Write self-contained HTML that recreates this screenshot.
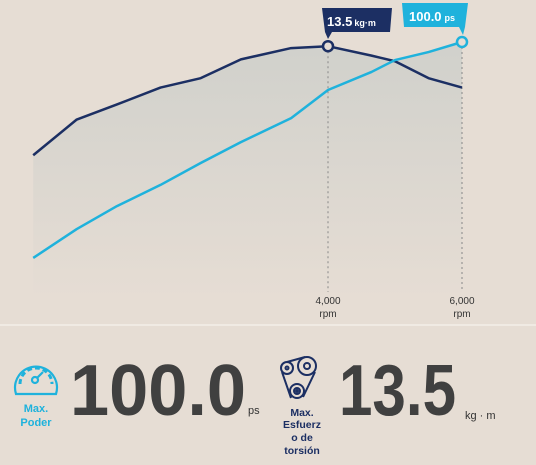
<!DOCTYPE html>
<html><head><meta charset="utf-8"><style>
body{margin:0;background:#e6ddd4;width:536px;height:465px;overflow:hidden;font-family:"Liberation Sans",sans-serif}
svg{position:absolute;left:0;top:0}
</style></head><body>
<svg width="536" height="465">
<defs><linearGradient id="g" x1="0" y1="0" x2="0" y2="1"><stop offset="0" stop-color="#cfd0cb" stop-opacity="0.95"/><stop offset="1" stop-color="#cfd0cb" stop-opacity="0"/></linearGradient></defs>
<g id="plot"></g>
<line x1="0" y1="325" x2="536" y2="325" stroke="#f3eee8" stroke-width="1.5"/>
<g fill="none" stroke="#1fb2dc" stroke-width="2.2">
<path d="M16,394 A21,21 0 1 1 56,394 Z"/>
<path d="M20,384 A16,16 0 1 1 52,384" stroke-dasharray="5 3" stroke-width="3"/>
<circle cx="35" cy="380" r="3"/><line x1="37" y1="378" x2="43" y2="372"/>
</g>
<text x="36" y="412" font-size="11" font-weight="bold" fill="#1fb2dc" text-anchor="middle">Max.</text>
<text x="36" y="426" font-size="11" font-weight="bold" fill="#1fb2dc" text-anchor="middle">Poder</text>
<text x="70" y="415" font-size="72" font-weight="bold" fill="#404040" textLength="176" lengthAdjust="spacingAndGlyphs">100.0</text>
<text x="248" y="414" font-size="11" fill="#333">ps</text>
<g fill="none" stroke="#1c2f63" stroke-width="2">
<circle cx="287" cy="368" r="6"/><circle cx="287" cy="368" r="1.5"/>
<circle cx="307" cy="366" r="9"/><circle cx="307" cy="366" r="3"/>
<circle cx="297" cy="391" r="7"/><circle cx="297" cy="391" r="3"/><circle cx="297" cy="391" r="1"/>
<path d="M282,372 L291,398 M315,372 L303,397 M287,362 L305,357"/>
</g>
<g font-size="10.5" font-weight="bold" fill="#1c2f63" text-anchor="middle">
<text x="302" y="416">Max.</text><text x="302" y="428">Esfuerz</text><text x="302" y="441">o de</text><text x="302" y="454">torsión</text></g>
<text x="339" y="415" font-size="72" font-weight="bold" fill="#404040" textLength="117" lengthAdjust="spacingAndGlyphs">13.5</text>
<text x="465" y="419" font-size="11" fill="#333">kg · m</text>
</svg>
<script>
const rpm=[-400,250,850,1500,2100,2700,3450,4000,4650,5000,5500,6000];
const torque=[7.7,9.6,10.4,11.3,11.8,12.8,13.4,13.5,13.0,12.7,11.8,11.3];
const power=[16.3,27.5,36.4,44.6,53.1,61.2,70.5,81.4,88.4,93,96.1,100];
const ticks=[4000,6000];
const tickLabels=["4,000","6,000"];
const xs=r=>60+r*0.067;
const yt=v=>300-v*18.8;
const yp=v=>300-v*2.58;
const NS="http://www.w3.org/2000/svg";
const g=document.getElementById('plot');
function mk(t,a){const e=document.createElementNS(NS,t);for(const k in a)e.setAttribute(k,a[k]);g.appendChild(e);return e;}
let env=rpm.map((r,i)=>[xs(r),Math.min(yt(torque[i]),yp(power[i]))]);
let d='M'+env.map(p=>p.join(',')).join(' L')+` L${xs(rpm[rpm.length-1])},300 L${xs(rpm[0])},300 Z`;
let a=mk('path',{d:d,fill:'url(#g)'});


ticks.forEach((t,i)=>{
 const x=xs(t);
 const top=i==0?yt(13.5):yp(100);
 let l=mk('line',{x1:x,y1:top,x2:x,y2:292,stroke:'#888','stroke-dasharray':'2 3','stroke-width':1});
 
 
 let t1=mk('text',{x:x,y:304,'font-size':10,fill:'#333','text-anchor':'middle'});t1.textContent=tickLabels[i];
 
 
 let t2=mk('text',{x:x,y:317,'font-size':10,fill:'#333','text-anchor':'middle'});t2.textContent='rpm';
 
 
});
function line(vals,f,col,name){
 let p=mk('polyline',{points:rpm.map((r,i)=>xs(r)+','+f(vals[i])).join(' '),fill:'none',stroke:col,'stroke-width':2.5,'stroke-linejoin':'round'});
 
 
}
line(torque,yt,'#1c2f63','torque-line');
line(power,yp,'#1fb2dc','power-line');
function marker(x,y,col,name){let c=mk('circle',{cx:x,cy:y,r:5,fill:'#e6ddd4',stroke:col,'stroke-width':2.5});
 
 }
const ti=torque.indexOf(Math.max(...torque)), pi=power.indexOf(Math.max(...power));
const tx=xs(rpm[ti]),ty=yt(torque[ti]),px=xs(rpm[pi]),py=yp(power[pi]);
marker(tx,ty,'#1c2f63','torque-max-marker');
marker(px,py,'#1fb2dc','power-max-marker');
let b1=mk('path',{d:`M${tx-6},8 L${tx+64},8 L${tx+62},32 L${tx+4},32 L${tx},39 L${tx-3},32 Z`,fill:'#1c2f63'});


let tt=mk('text',{x:tx-1,y:26,fill:'#fff','font-size':13,'font-weight':'bold'});tt.innerHTML='13.5<tspan font-size="9" dx="2">kg·m</tspan>';


let b2=mk('path',{d:`M${px-60},3 L${px+6},3 L${px+3},27 L${px+1},35 L${px-3},27 L${px-58},27 Z`,fill:'#1fb2dc'});


let pt=mk('text',{x:px-53,y:21,fill:'#fff','font-size':13,'font-weight':'bold'});pt.innerHTML='100.0<tspan font-size="9" dx="3">ps</tspan>';


</script>
</body></html>
